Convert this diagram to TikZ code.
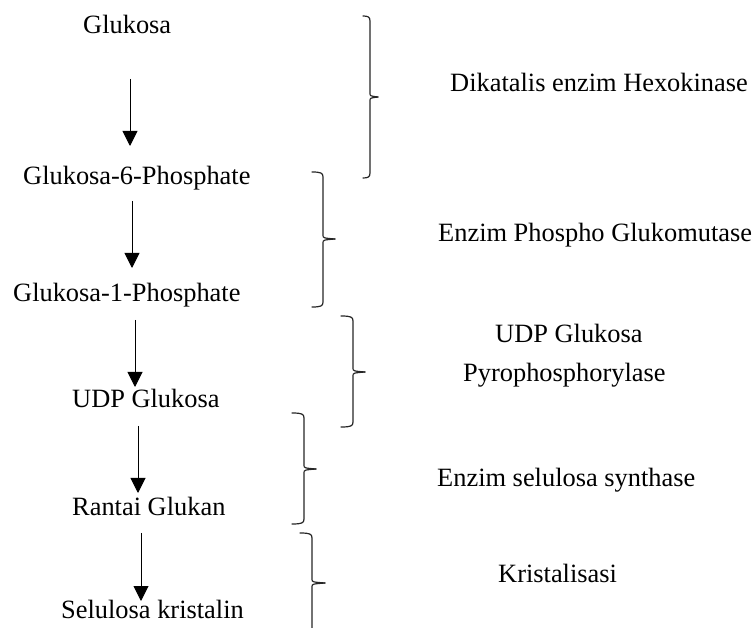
\documentclass[tikz,border=0pt]{standalone}
\usepackage{fontspec}
\setmainfont{Liberation Serif}
\usetikzlibrary{arrows.meta,calc}
% #1 x, #2 top, #3 mid, #4 bottom, #5 hook length, #6 tip length
\newcommand\mybrace[6]{%
  \draw[bracestyle] ({#1-#5},#2) .. controls ({#1-2},#2) and (#1,{#2+1}) .. (#1,{#2+5})
     -- (#1,{#3-4}) .. controls (#1,{#3-1}) .. ({#1+#6},#3);
  \draw[bracestyle] ({#1+#6},#3) .. controls (#1,{#3+1}) .. (#1,{#3+4})
     -- (#1,{#4-5}) .. controls (#1,{#4-1}) and ({#1-2},#4) .. ({#1-#5},#4);
}
\begin{document}
\begin{tikzpicture}[x=1pt,y=-1pt,
  lbl/.style={inner sep=0pt,anchor=base west,font=\fontsize{26.4}{30}\selectfont},
  arr/.style={-{Triangle[width=15pt,length=15pt]}, line width=1pt},
  bracestyle/.style={line width=1.2pt, line cap=round, color=black!85}]
\useasboundingbox (0,0) rectangle (756,628);

% left column
\node[lbl] (g0) at (83,34) {Glukosa};
\node[lbl] (g1) at (23,185) {Glukosa-6-Phosphate};
\node[lbl] (g2) at (13,302) {Glukosa-1-Phosphate};
\node[lbl] (g3) at (72,408) {UDP Glukosa};
\node[lbl] (g4) at (72,516) {Rantai Glukan};
\node[lbl] (g5) at (61,619) {Selulosa kristalin};

% right column
\node[lbl] (e1) at (450,92) {Dikatalis enzim Hexokinase};
\node[lbl] (e2) at (438,242) {Enzim Phospho Glukomutase};
\node[lbl] (e3a) at (495,343) {UDP Glukosa};
\node[lbl] (e3b) at (463,382) {Pyrophosphorylase};
\node[lbl] (e4) at (437,487) {Enzim selulosa synthase};
\node[lbl] (e5) at (498,583) {Kristalisasi};

% arrow columns
\coordinate (a1) at (130,0);
\coordinate (a2) at (132,0);
\coordinate (a3) at (135,0);
\coordinate (a4) at (138,0);
\coordinate (a5) at (141,0);

\draw[arr] ($(g0.base -| a1)+(0,45)$) -- ($(g1.base -| a1)+(0,-39)$);
\draw[arr] ($(g1.base -| a2)+(0,16)$) -- ($(g2.base -| a2)+(0,-34)$);
\draw[arr] ($(g2.base -| a3)+(0,18)$) -- ($(g3.base -| a3)+(0,-21)$);
\draw[arr] ($(g3.base -| a4)+(0,18)$) -- ($(g4.base -| a4)+(0,-23)$);
\draw[arr] ($(g4.base -| a5)+(0,17)$) -- ($(g5.base -| a5)+(0,-18)$);

% braces
\mybrace{370}{16}{97}{178}{7}{8}
\mybrace{323}{172}{239}{307}{11}{12}
\mybrace{353}{316}{372}{427}{12}{12}
\mybrace{304}{413}{469}{524}{12}{12}
\draw[bracestyle] (300,533) .. controls (310,533) and (312,534) .. (312,538)
   -- (312,579) .. controls (312,582) .. (325,583);
\draw[bracestyle] (325,583) .. controls (312,584) .. (312,587) -- (312,628);
\end{tikzpicture}
\end{document}
